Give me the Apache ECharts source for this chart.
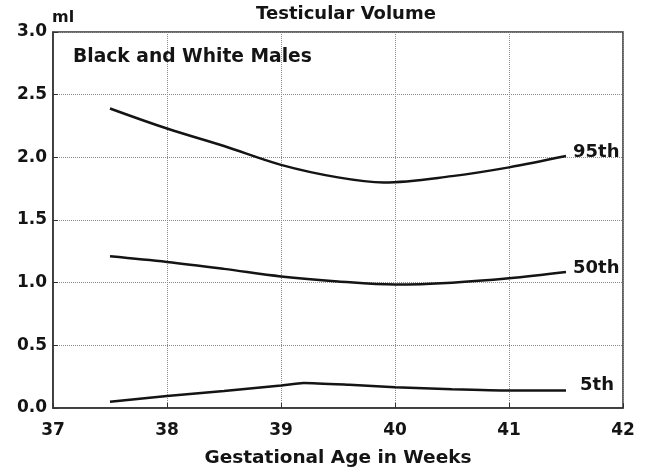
<!DOCTYPE html>
<html>
<head>
<meta charset="utf-8">
<script src="https://cdn.jsdelivr.net/npm/echarts@6/dist/echarts.min.js"></script>
<style>
  html, body { margin: 0; padding: 0; background: #fff; }
  #chart { width: 656px; height: 476px; }
</style>
</head>
<body>
<div id="chart"></div>
<script>
// Percentile curves of testicular volume (ml) by gestational age (weeks)
const weeksTicks = [37, 38, 39, 40, 41, 42];
const volumeTicks = [0.0, 0.5, 1.0, 1.5, 2.0, 2.5, 3.0];

const p95Weeks = [37.5, 38.0, 38.5, 39.0, 39.5, 39.9, 40.5, 41.0, 41.5];
const p95Vol   = [2.39, 2.23, 2.09, 1.94, 1.84, 1.80, 1.85, 1.92, 2.01];

const p50Weeks = [37.5, 38.0, 38.5, 39.0, 39.5, 40.0, 40.5, 41.0, 41.5];
const p50Vol   = [1.21, 1.165, 1.11, 1.05, 1.01, 0.985, 1.00, 1.035, 1.085];

const p5Weeks  = [37.5, 38.0, 38.5, 39.0, 39.2, 39.6, 40.0, 40.5, 41.0, 41.5];
const p5Vol    = [0.05, 0.095, 0.135, 0.18, 0.20, 0.185, 0.165, 0.15, 0.14, 0.14];

const seriesNames = ['95th', '50th', '5th'];

const FONT = '"DejaVu Sans", Verdana, sans-serif';
const INK = '#141414';

function pairs(xs, ys) { return xs.map((x, i) => [x, ys[i]]); }

function curve(name, xs, ys, offset, smooth) {
  return {
    name: name,
    type: 'line',
    data: pairs(xs, ys),
    smooth: smooth,
    showSymbol: false,
    lineStyle: { color: INK, width: 2.5 },
    endLabel: {
      show: true,
      formatter: '{a}',
      offset: offset,
      color: INK,
      fontFamily: FONT,
      fontWeight: 'bold',
      fontSize: 18
    },
    emphasis: { disabled: true },
    animation: false
  };
}

const chart = echarts.init(document.getElementById('chart'));
chart.setOption({
  animation: false,
  backgroundColor: '#fff',
  title: [
    {
      text: 'Testicular Volume',
      left: 346, top: 5, padding: 0, textAlign: 'center',
      textStyle: { fontFamily: FONT, fontWeight: 'bold', fontSize: 18, color: INK }
    },
    {
      text: 'ml',
      left: 52, top: 10, padding: 0,
      textStyle: { fontFamily: FONT, fontWeight: 'bold', fontSize: 16, color: INK }
    },
    {
      text: 'Black and White Males',
      left: 73, top: 48, padding: 0,
      textStyle: { fontFamily: FONT, fontWeight: 'bold', fontSize: 18.7, color: INK }
    }
  ],
  grid: {
    left: 53, right: 33, top: 32, bottom: 68,
    show: true, borderColor: '#333', borderWidth: 1.5, backgroundColor: 'transparent'
  },
  xAxis: {
    type: 'value',
    min: weeksTicks[0], max: weeksTicks[weeksTicks.length - 1], interval: 1,
    name: 'Gestational Age in Weeks',
    nameLocation: 'middle', nameGap: 41,
    nameTextStyle: { fontFamily: FONT, fontWeight: 'bold', fontSize: 18.5, color: INK },
    axisLine: { show: true, lineStyle: { color: '#333', width: 1.5 } },
    axisTick: { show: true, inside: true, length: 5, lineStyle: { color: '#333' } },
    axisLabel: {
      margin: 14, color: INK, fontFamily: FONT, fontWeight: 'bold', fontSize: 17,
      formatter: v => String(v)
    },
    splitLine: { show: true, lineStyle: { color: '#8a8a8a', type: 'dotted', width: 1 } }
  },
  yAxis: {
    type: 'value',
    min: volumeTicks[0], max: volumeTicks[volumeTicks.length - 1], interval: 0.5,
    axisLine: { show: true, lineStyle: { color: '#333', width: 1.5 } },
    axisTick: { show: true, inside: true, length: 5, lineStyle: { color: '#333' } },
    axisLabel: {
      margin: 6, color: INK, fontFamily: FONT, fontWeight: 'bold', fontSize: 17,
      formatter: v => v.toFixed(1)
    },
    splitLine: { show: true, lineStyle: { color: '#8a8a8a', type: 'dotted', width: 1 } }
  },
  series: [
    curve(seriesNames[0], p95Weeks, p95Vol, [-1, -4], 0.35),
    curve(seriesNames[1], p50Weeks, p50Vol, [-1, -4], 0.35),
    curve(seriesNames[2], p5Weeks, p5Vol, [6, -5], 0.2)
  ]
});
</script>
</body>
</html>
